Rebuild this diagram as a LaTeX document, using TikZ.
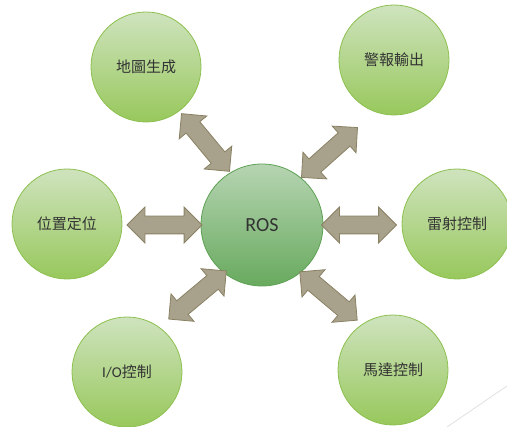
\documentclass[tikz,border=0pt]{standalone}
\usepackage{fontspec}
\setmainfont{Carlito}
\newfontfamily\cjk{Noto Sans CJK TC}
\usetikzlibrary{shapes.arrows}
\definecolor{taskTop}{RGB}{207,227,190}
\definecolor{taskBot}{RGB}{152,200,92}
\definecolor{taskLine}{RGB}{140,192,78}
\definecolor{coreTop}{RGB}{182,212,178}
\definecolor{coreBot}{RGB}{104,170,94}
\definecolor{coreLine}{RGB}{94,160,84}
\definecolor{linkFill}{RGB}{168,162,140}
\definecolor{linkLine}{RGB}{138,129,99}

\begin{document}
\begin{tikzpicture}[x=1pt,y=-1pt,
            task/.style={circle, minimum size=110pt, inner sep=0pt,
                draw=taskLine, line width=0.8pt, top color=taskTop, bottom color=taskBot,
                text=black!80, font=\cjk\fontsize{15}{17}\selectfont},
            core/.style={circle, minimum size=122pt, inner sep=0pt,
                draw=coreLine, line width=0.8pt, top color=coreTop, bottom color=coreBot,
                text=black!80, font=\fontsize{20}{24}\selectfont},
            link/.style={double arrow, double arrow head extend=9pt, inner sep=8.5pt,
                minimum height=75pt, outer sep=0pt, fill=linkFill, draw=linkLine,
                line width=0.8pt}]
            \useasboundingbox (0,0) rectangle (507,427);

            % centre and tasks
            \node[core] (ros) at (262,225) {ROS};
            \node[task] (map) at (146,67) {地圖生成};
            \node[task] (alarm) at (394,60) {警報輸出};
            \node[task] (loc) at (67,224) {位置定位};
            \node[task] (laser) at (457,224) {雷射控制};
            \node[task] (io) at (127,372) {{\rmfamily I/O}控制};
            \node[task] (motor) at (393,370) {馬達控制};

            % block arrows
            \node[link, rotate=129.7] (l-map) at (205.5,142.5) {};
            \node[link, rotate=41.7] (l-alarm) at (329.5,152.5) {};
            \node[link] (l-loc) at (164.5,225) {};
            \node[link] (l-laser) at (359,225) {};
            \node[link, rotate=39.9] (l-io) at (197.5,295) {};
            \node[link, rotate=-40.1] (l-motor) at (328.5,296) {};

            \coordinate (g1) at (447,427);
            \coordinate (g2) at (507,386);
            \draw[black!12, line width=0.8pt] (g1) -- (g2);
        \end{tikzpicture}
\end{document}
